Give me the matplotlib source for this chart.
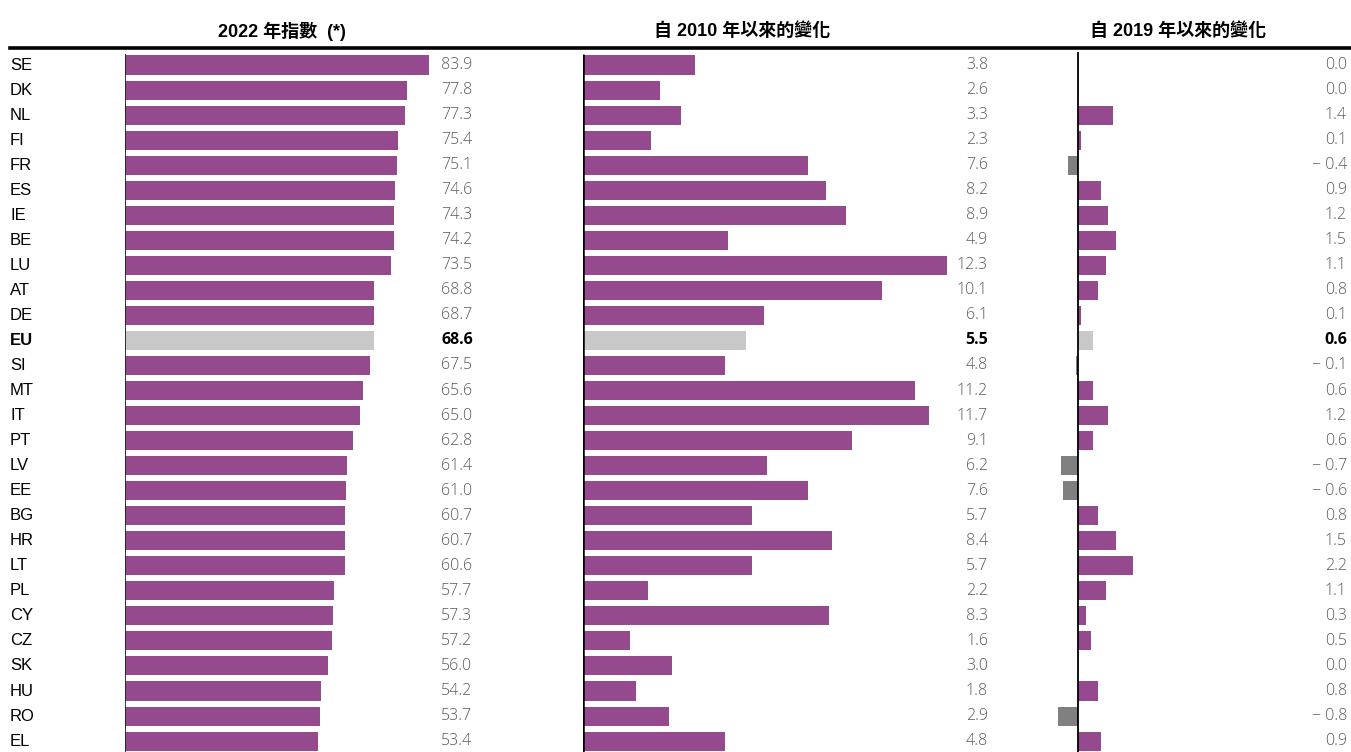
"""Digital index chart: 2022 score, change since 2010, change since 2019."""
import matplotlib
matplotlib.use("Agg")
import matplotlib.pyplot as plt
from matplotlib.lines import Line2D
from matplotlib.transforms import blended_transform_factory

# ---- data ----
countries = ["SE", "DK", "NL", "FI", "FR", "ES", "IE", "BE", "LU", "AT", "DE", "EU",
             "SI", "MT", "IT", "PT", "LV", "EE", "BG", "HR", "LT", "PL", "CY", "CZ",
             "SK", "HU", "RO", "EL"]
index_2022 = [83.9, 77.8, 77.3, 75.4, 75.1, 74.6, 74.3, 74.2, 73.5, 68.8, 68.7, 68.6,
              67.5, 65.6, 65.0, 62.8, 61.4, 61.0, 60.7, 60.7, 60.6, 57.7, 57.3, 57.2,
              56.0, 54.2, 53.7, 53.4]
change_2010 = [3.8, 2.6, 3.3, 2.3, 7.6, 8.2, 8.9, 4.9, 12.3, 10.1, 6.1, 5.5,
               4.8, 11.2, 11.7, 9.1, 6.2, 7.6, 5.7, 8.4, 5.7, 2.2, 8.3, 1.6,
               3.0, 1.8, 2.9, 4.8]
change_2019 = [0.0, 0.0, 1.4, 0.1, -0.4, 0.9, 1.2, 1.5, 1.1, 0.8, 0.1, 0.6,
               -0.1, 0.6, 1.2, 0.6, -0.7, -0.6, 0.8, 1.5, 2.2, 1.1, 0.3, 0.5,
               0.0, 0.8, -0.8, 0.9]
headers = ["2022 年指數  (*)", "自 2010 年以來的變化", "自 2019 年以來的變化"]

# ---- style ----
W, H = 1351, 752
PURPLE = "#944a8c"
EU_GREY = "#c8c8c8"
NEG_GREY = "#808080"
VAL_COLOR = "#5a5a5a"
HEAD_FONT = ["Liberation Sans", "Noto Sans CJK TC"]
ROW0_PX, ROW_STEP_PX = 65, 25.04
BAR_H = 0.76


def fx(px):
    return px / W


def fy(px):
    return 1 - px / H


fig = plt.figure(figsize=(W / 100, H / 100), dpi=100)

# rows: pixel y = ROW0_PX + ROW_STEP_PX * i, axes span full figure height
ylim = ((H - ROW0_PX) / ROW_STEP_PX, -ROW0_PX / ROW_STEP_PX)
rows = list(range(len(countries)))
eu = countries.index("EU")

# panel geometry in px: (axis-zero px, px per unit, left px, right px)
panels = [
    (125, 3.623, 125, 470),
    (583, 29.6, 583, 970),
    (1078, 25.0, 1030, 1180),
]

axes = []
for zero, scale, left, right in panels:
    ax = fig.add_axes([fx(left), 0, fx(right - left), 1])
    ax.set_xlim((left - zero) / scale, (right - zero) / scale)
    ax.set_ylim(*ylim)
    ax.axis("off")
    axes.append(ax)

ax1, ax2, ax3 = axes

colors1 = [EU_GREY if c == "EU" else PURPLE for c in countries]
ax1.barh(rows, index_2022, height=BAR_H, color=colors1)
ax1.vlines(0, -0.45, len(countries), color="#222222", linewidth=1.3)

ax2.barh(rows, change_2010, height=BAR_H, color=colors1)
ax2.vlines(0, -0.45, len(countries), color="black", linewidth=1.8)

colors3 = [EU_GREY if c == "EU" else (NEG_GREY if v < 0 else PURPLE)
           for c, v in zip(countries, change_2019)]
ax3.barh(rows, change_2019, height=BAR_H, color=colors3)
ax3.vlines(0, -0.5, len(countries), color="black", linewidth=1.3)

# country labels
tr = blended_transform_factory(fig.transFigure, ax1.transData)
for i, c in enumerate(countries):
    ax1.text(fx(10), i, c, transform=tr, ha="left", va="center", fontsize=12,
             family="Liberation Sans", fontweight="bold" if c == "EU" else "normal",
             color="black")


def fmt(v):
    return f"\u2212 {abs(v):.1f}" if v < 0 else f"{v:.1f}"


label_cols = [(ax1, index_2022, 441, "left"),
              (ax2, change_2010, 988, "right"),
              (ax3, change_2019, 1347, "right")]
for ax, vals, xpx, ha in label_cols:
    t = blended_transform_factory(fig.transFigure, ax.transData)
    for i, v in enumerate(vals):
        bold = i == eu
        ax.text(fx(xpx), i, fmt(v), transform=t, ha=ha, va="center",
                fontsize=11.5, family="Open Sans",
                fontweight="bold" if bold else 300,
                color="black" if bold else VAL_COLOR)

# headers and rule
for txt, xpx in zip(headers, [282, 742, 1178]):
    fig.text(fx(xpx), fy(31), txt, ha="center", va="center", fontsize=13,
             fontweight="bold", family=HEAD_FONT)
fig.add_artist(Line2D([fx(10), 1], [fy(48), fy(48)], color="black", linewidth=2.6))

fig.savefig("out.png", dpi=100)
